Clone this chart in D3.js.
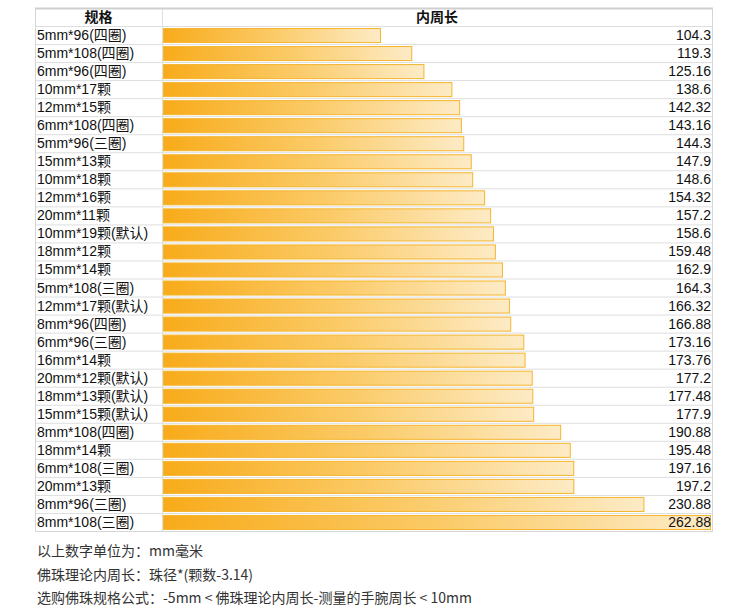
<!DOCTYPE html>
<html>
<head>
<meta charset="utf-8">
<style>
  body { margin: 0; background: #fff; }
  svg text { font-family: "Liberation Sans", Arial, "Noto Sans CJK SC", sans-serif; }
</style>
<script src="https://d3js.org/d3.v7.min.js"></script>
</head>
<body>
<script>
// data
const specs = ["5mm*96(四圈)", "5mm*108(四圈)", "6mm*96(四圈)", "10mm*17颗", "12mm*15颗",
  "6mm*108(四圈)", "5mm*96(三圈)", "15mm*13颗", "10mm*18颗", "12mm*16颗", "20mm*11颗",
  "10mm*19颗(默认)", "18mm*12颗", "15mm*14颗", "5mm*108(三圈)", "12mm*17颗(默认)",
  "8mm*96(四圈)", "6mm*96(三圈)", "16mm*14颗", "20mm*12颗(默认)", "18mm*13颗(默认)",
  "15mm*15颗(默认)", "8mm*108(四圈)", "18mm*14颗", "6mm*108(三圈)", "20mm*13颗",
  "8mm*96(三圈)", "8mm*108(三圈)"];
const lengths = [104.3, 119.3, 125.16, 138.6, 142.32, 143.16, 144.3, 147.9, 148.6, 154.32,
  157.2, 158.6, 159.48, 162.9, 164.3, 166.32, 166.88, 173.16, 173.76, 177.2, 177.48,
  177.9, 190.88, 195.48, 197.16, 197.2, 230.88, 262.88];
const headers = ["规格", "内周长"];
const notes = ["以上数字单位为：mm毫米",
  "佛珠理论内周长：珠径*(颗数-3.14)",
  "选购佛珠规格公式：-5mm < 佛珠理论内周长-测量的手腕周长 < 10mm"];

const w = 750, h = 611;
const tLeft = 35, tMid = 162, tRight = 712, tTop = 8, headH = 18, tBottom = 531;

const svg = d3.select("body").append("svg").attr("width", w).attr("height", h);

const defs = svg.append("defs");
const grad = defs.append("linearGradient").attr("id", "barGrad")
  .attr("x1", "0%").attr("x2", "100%").attr("y1", "0%").attr("y2", "0%");
grad.append("stop").attr("offset", "0%").attr("stop-color", "#f8ab1a");
grad.append("stop").attr("offset", "50%").attr("stop-color", "#fbca66");
grad.append("stop").attr("offset", "100%").attr("stop-color", "#fdebc6");

const y = d3.scaleBand().domain(specs).range([tTop + headH, tBottom]).paddingInner(0);
const x = d3.scaleLinear().domain([0, 262.88]).range([tMid + 1, tRight - 2]);

// grid
svg.selectAll("line.row")
  .data(specs)
  .enter().append("line")
  .attr("class", "row")
  .attr("x1", tLeft).attr("x2", tRight)
  .attr("y1", d => y(d) + 0.5).attr("y2", d => y(d) + 0.5)
  .attr("stroke", "#dedede");

svg.append("line").attr("x1", tMid + 0.5).attr("x2", tMid + 0.5)
  .attr("y1", tTop).attr("y2", tBottom).attr("stroke", "#dedede");

svg.append("rect").attr("x", tLeft + 0.5).attr("y", tTop + 0.5)
  .attr("width", tRight - tLeft).attr("height", tBottom - tTop)
  .attr("fill", "none").attr("stroke", "#d6d6d6");
svg.append("line").attr("x1", tLeft).attr("x2", tRight + 1)
  .attr("y1", tTop + 0.5).attr("y2", tTop + 0.5).attr("stroke", "#cfcfcf").attr("stroke-width", 2);

// header
svg.append("text").attr("x", (tLeft + tMid) / 2).attr("y", tTop + 14)
  .attr("text-anchor", "middle").attr("font-size", 14).attr("font-weight", "bold")
  .attr("fill", "#111").text(headers[0]);
svg.append("text").attr("x", (tMid + tRight) / 2).attr("y", tTop + 14)
  .attr("text-anchor", "middle").attr("font-size", 14).attr("font-weight", "bold")
  .attr("fill", "#111").text(headers[1]);

// bars
svg.selectAll("rect.bar")
  .data(lengths)
  .enter().append("rect")
  .attr("class", "bar")
  .attr("x", x(0) + 0.5)
  .attr("y", (d, i) => y(specs[i]) + 2.5)
  .attr("width", d => x(d) - x(0))
  .attr("height", y.bandwidth() - 4)
  .attr("fill", "url(#barGrad)")
  .attr("stroke", "#f5b52e")
  .attr("stroke-width", 1);

// labels
svg.selectAll("text.spec")
  .data(specs)
  .enter().append("text")
  .attr("class", "spec")
  .attr("x", tLeft + 2)
  .attr("y", d => y(d) + y.bandwidth() / 2 + 5)
  .attr("font-size", 14)
  .attr("fill", "#111")
  .text(d => d);

svg.selectAll("text.val")
  .data(lengths)
  .enter().append("text")
  .attr("class", "val")
  .attr("x", tRight - 1)
  .attr("y", (d, i) => y(specs[i]) + y.bandwidth() / 2 + 5)
  .attr("text-anchor", "end")
  .attr("font-size", 14)
  .attr("fill", "#111")
  .text(d => d);

// notes
svg.selectAll("text.note")
  .data(notes)
  .enter().append("text")
  .attr("class", "note")
  .attr("x", 37)
  .attr("y", (d, i) => 556 + i * 23.5)
  .attr("font-size", 14)
  .attr("fill", "#333")
  .style("font-family", "'Noto Sans CJK SC', sans-serif")
  .text(d => d);
</script>
</body>
</html>
